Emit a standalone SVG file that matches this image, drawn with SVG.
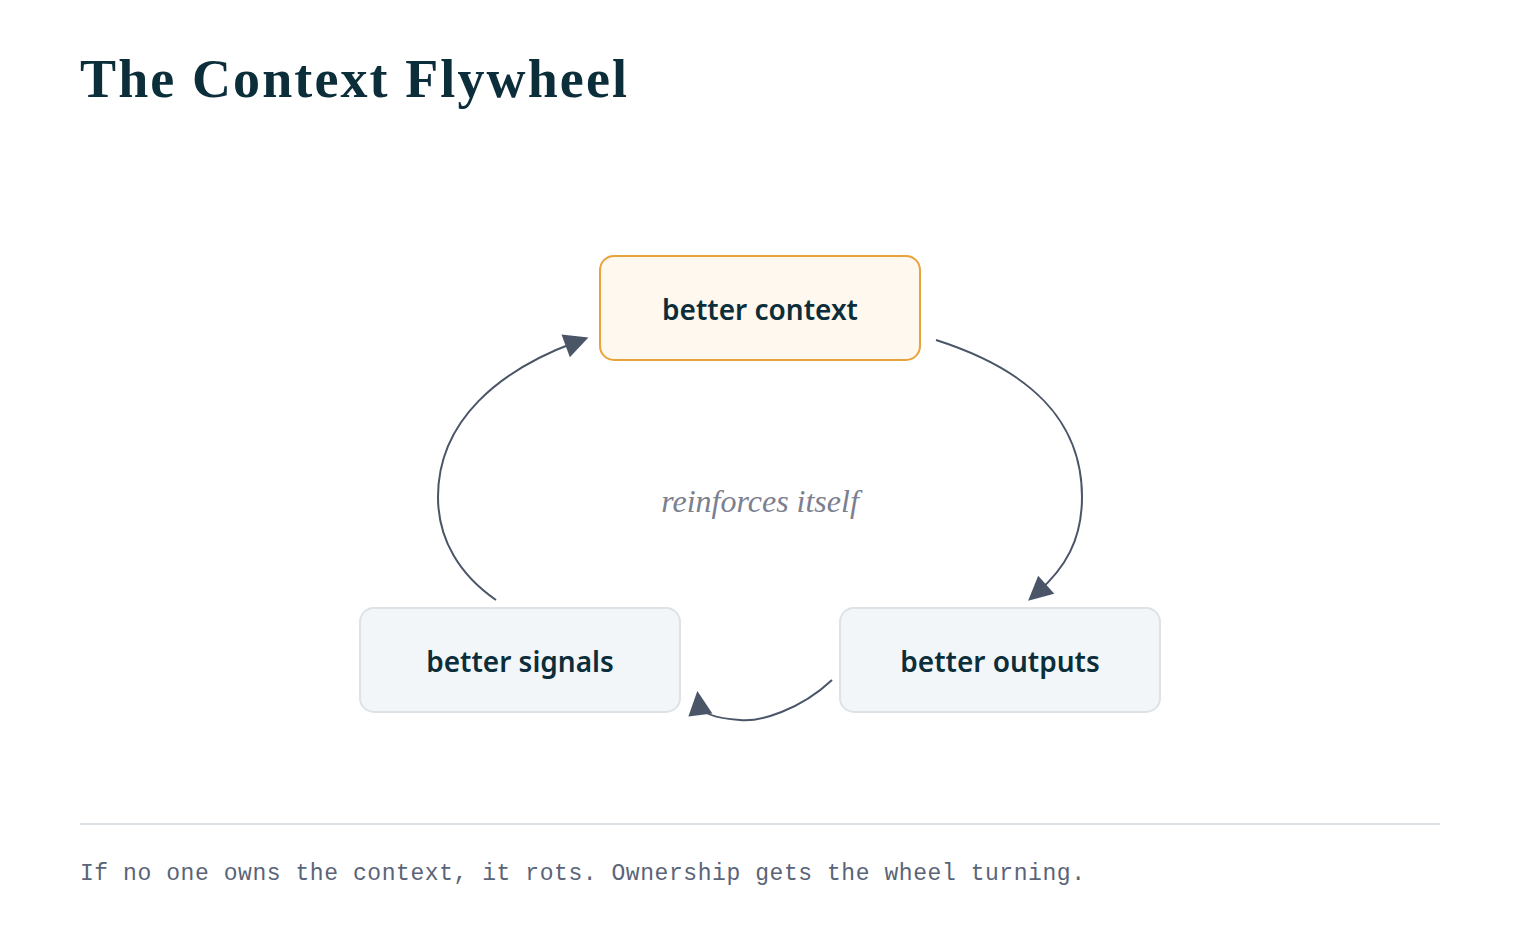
<svg xmlns="http://www.w3.org/2000/svg" width="1520" height="936" viewBox="0 0 1520 936">
<style>
.nt{font-family:"Noto Sans","Liberation Sans",sans-serif;font-weight:600;font-size:28px;fill:#0b2e3a;text-anchor:middle}
.c{fill:none;stroke:#4a5568;stroke-width:2}
.g{fill:#f3f6f8;stroke:#dde2e6;stroke-width:2}
</style>
<defs>
<marker id="ah" viewBox="0 0 10 10" refX="2" refY="5" markerWidth="11" markerHeight="11" markerUnits="userSpaceOnUse" orient="auto" style="overflow:visible">
<path d="M-8,-6 L14,5 L-8,16 Z" fill="#4a5568"/>
</marker>
</defs>
<rect width="1520" height="936" fill="#fff"/>
<text x="80" y="97" font-family="Liberation Serif,serif" font-weight="bold" font-size="54" fill="#0b2e3a" textLength="547" lengthAdjust="spacing">The Context Flywheel</text>
<g id="connectors">
<path class="c" marker-end="url(#ah)" d="M936,340 C1030,370 1082,420 1082,497 C1082,540 1065,568 1038,592"/>
<path class="c" marker-end="url(#ah)" d="M832,680 C800,710 760,722 740,720 C712,718 700,712 699,704"/>
<path class="c" marker-end="url(#ah)" d="M496,600 C460,575 438,540 438,497 C438,420 500,370 576,342"/>
</g>
<g id="n1"><rect x="600" y="256" width="320" height="104" rx="14" fill="#fff8ee" stroke="#e8a33a" stroke-width="2"/><text class="nt" x="760" y="320">better context</text></g>
<g id="n2"><rect class="g" x="840" y="608" width="320" height="104" rx="14"/><text class="nt" x="1000" y="672">better outputs</text></g>
<g id="n3"><rect class="g" x="360" y="608" width="320" height="104" rx="14"/><text class="nt" x="520" y="672">better signals</text></g>
<text x="760" y="512" text-anchor="middle" font-family="Liberation Serif,serif" font-style="italic" font-size="32" fill="#7b8090">reinforces itself</text>
<line x1="80" y1="824" x2="1440" y2="824" stroke="#dde2e6" stroke-width="2"/>
<text x="80" y="880" font-family="Liberation Mono,monospace" font-size="23" fill="#5a6478" textLength="1005" lengthAdjust="spacing">If no one owns the context, it rots. Ownership gets the wheel turning.</text>
</svg>
